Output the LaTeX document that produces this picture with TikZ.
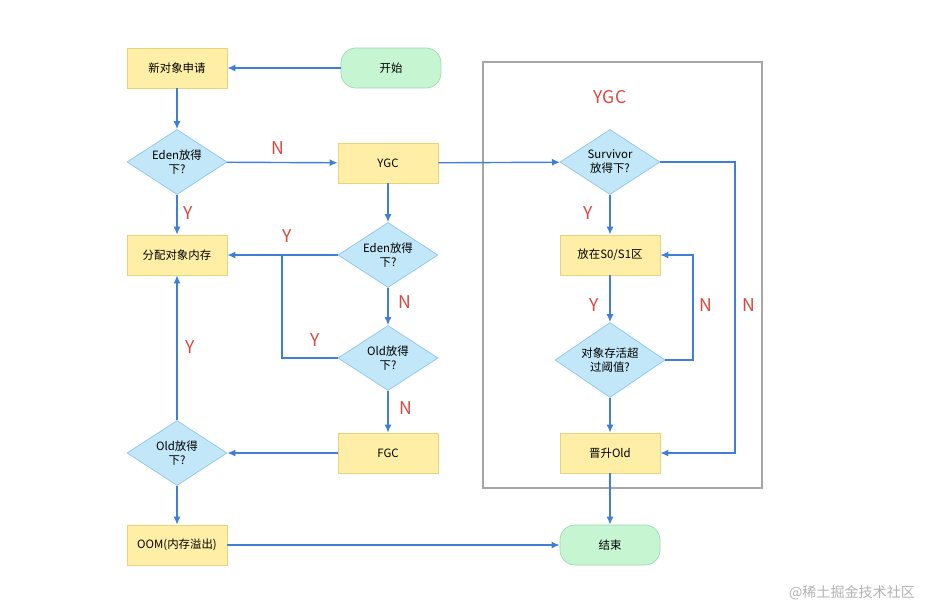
\documentclass[tikz,border=0pt]{standalone}
\usepackage{fontspec}
\setmainfont{Noto Sans CJK SC}
\usetikzlibrary{shapes.geometric,arrows.meta}
\definecolor{boxfill}{HTML}{FFEFA6}
\definecolor{boxline}{HTML}{E8D27A}
\definecolor{dfill}{HTML}{C2E7F8}
\definecolor{dline}{HTML}{8CC6E8}
\definecolor{gfill}{HTML}{C6F5D2}
\definecolor{gline}{HTML}{9ADBAE}
\definecolor{flow}{HTML}{3F7FD6}
\definecolor{lab}{HTML}{D9473F}
\tikzset{
  box/.style={draw=boxline, fill=boxfill, minimum width=2cm, minimum height=0.8cm, font=\fontsize{6.5}{8}\selectfont},
  ask/.style={diamond, draw=dline, fill=dfill, aspect=1.55, inner sep=0pt, minimum width=2cm, minimum height=1.3cm, align=center, font=\fontsize{6.5}{8}\selectfont},
  term/.style={draw=gline, fill=gfill, rounded corners=0.3cm, minimum width=2cm, minimum height=0.8cm, font=\fontsize{6.5}{8}\selectfont},
  go/.style={draw=flow, thick, -{Latex[length=1.6mm,width=1.4mm]}},
  yn/.style={text=lab, font=\fontsize{10}{12}\selectfont}
}
\begin{document}
\begin{tikzpicture}[x=0.02cm,y=-0.02cm]
\useasboundingbox (0,0) rectangle (931,610);

\draw[gray!70, thick] (483,62) rectangle (762,488);
\node[yn] (ygclab) at (610,97) {YGC};

\node[box] (req) at (177,68) {新对象申请};
\node[term] (start) at (391,68) {开始};
\node[ask] (eden1) at (177,162) {Eden放得\\下?};
\node[box] (ygc) at (388,163) {YGC};
\node[box] (alloc) at (177,255) {分配对象内存};
\node[ask] (eden2) at (388,255) {Eden放得\\下?};
\node[ask] (old2) at (388,358) {Old放得\\下?};
\node[box] (fgc) at (388,453) {FGC};
\node[ask] (old1) at (177,453) {Old放得\\下?};
\node[box] (oom) at (177,545) {OOM(内存溢出)};
\node[term] (stop) at (610,545) {结束};
\node[ask] (surv) at (610,162) {Survivor\\放得下?};
\node[box] (s01) at (610,255) {放在S0/S1区};
\node[ask, minimum width=2.2cm, minimum height=1.5cm] (age) at (610,360) {对象存活超\\过阈值?};
\node[box] (prom) at (610,453) {晋升Old};

\draw[go] (start) -- (req);
\draw[go] (req) -- (eden1);
\draw[go] (eden1) -- (ygc);
\draw[go] (eden1) -- (alloc);
\draw[go] (ygc) -- (eden2);
\draw[go] (ygc) -- (surv);
\draw[go] (eden2) -- (alloc);
\draw[go] (eden2) -- (old2);
\draw[flow, thick] (old2.west) -| (282,255);
\draw[go] (old2) -- (fgc);
\draw[go] (fgc) -- (old1);
\draw[go] (old1) -- (alloc);
\draw[go] (old1) -- (oom);
\draw[go] (oom) -- (stop);
\draw[go] (surv) -- (s01);
\draw[go] (surv.east) -- (735,162) |- (prom.east);
\draw[go] (s01) -- (age);
\draw[go] (age.east) -- (693,360) |- (s01.east);
\draw[go] (age) -- (prom);
\draw[go] (prom) -- (stop);

\node[yn] (n1) at (278,148) {N};
\node[yn] (y1) at (188,213) {Y};
\node[yn] (y2) at (287,236) {Y};
\node[yn] (n2) at (405,302) {N};
\node[yn] (y3) at (315,340) {Y};
\node[yn] (n3) at (406,408) {N};
\node[yn] (y4) at (190,347) {Y};
\node[yn] (y5) at (588,213) {Y};
\node[yn] (y6) at (594,305) {Y};
\node[yn] (n4) at (706,305) {N};
\node[yn] (n5) at (749,305) {N};
\node[text=gray!60, font=\fontsize{8}{10}\selectfont] (mark) at (852,593) {@稀土掘金技术社区};
\end{tikzpicture}
\end{document}
